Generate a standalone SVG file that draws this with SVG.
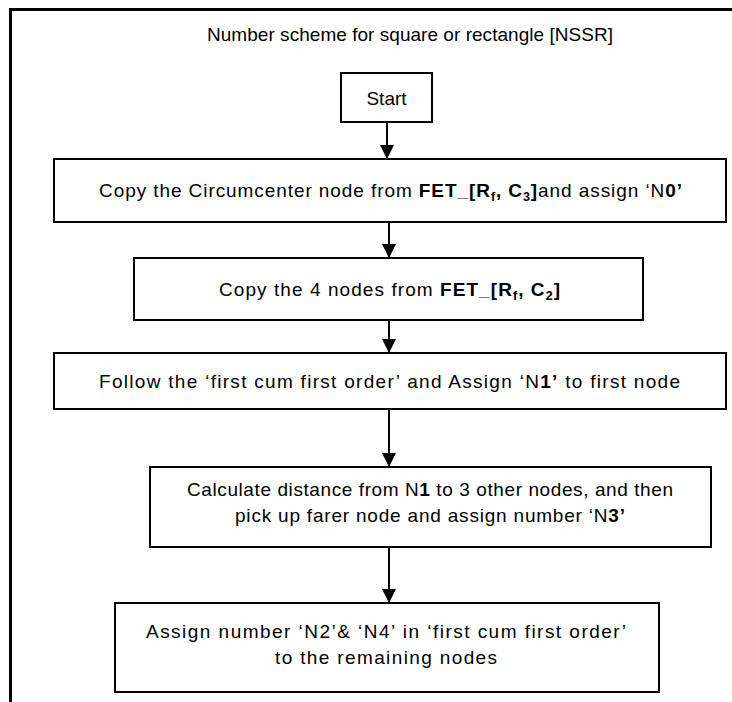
<svg xmlns="http://www.w3.org/2000/svg" width="732" height="702" viewBox="0 0 732 702">
  <style>
    .box { fill: #ffffff; stroke: #000000; stroke-width: 2; }
    .txt { font-family: "Liberation Sans", Arial, sans-serif; font-size: 19px; fill: #000000; text-anchor: middle; }
    .b { font-weight: bold; }
    .sub { font-size: 12.5px; }
    .conn { stroke: #000000; stroke-width: 2; fill: none; marker-end: url(#arrow); }
  </style>
  <defs>
    <marker id="arrow" viewBox="0 0 14 14" refX="14" refY="7" markerWidth="14" markerHeight="14" markerUnits="userSpaceOnUse" orient="auto">
      <path d="M0,0 L14,7 L0,14 Z" fill="#000000"/>
    </marker>
  </defs>

  <rect x="0" y="0" width="732" height="702" fill="#ffffff"/>

  <!-- outer frame: only the top and left edges fall inside the page -->
  <path d="M10.5,702 L10.5,9.5 L732,9.5" fill="none" stroke="#000000" stroke-width="3"/>

  <text class="txt" x="410" y="41" textLength="406">Number scheme for square or rectangle [NSSR]</text>

  <g id="connectors">
    <line class="conn" x1="387" y1="122" x2="387" y2="159"/>
    <line class="conn" x1="389" y1="222" x2="389" y2="258"/>
    <line class="conn" x1="389" y1="320" x2="389" y2="353"/>
    <line class="conn" x1="389" y1="409" x2="389" y2="467"/>
    <line class="conn" x1="389" y1="547" x2="389" y2="603"/>
  </g>

  <g id="start">
    <rect class="box" x="341" y="73" width="91" height="49"/>
    <text class="txt" x="386.5" y="104.5">Start</text>
  </g>

  <g id="copy-circumcenter">
    <rect class="box" x="54" y="159" width="672" height="63"/>
    <text class="txt" x="390.5" y="197" textLength="583">Copy the Circumcenter node from <tspan class="b">FET_[R<tspan class="sub" dy="4">f</tspan><tspan dy="-4">, C</tspan><tspan class="sub" dy="4">3</tspan><tspan dy="-4">]</tspan></tspan>and assign ‘N<tspan class="b">0’</tspan></text>
  </g>

  <g id="copy-four-nodes">
    <rect class="box" x="134" y="258" width="509" height="62"/>
    <text class="txt" x="389.5" y="296" textLength="341">Copy the 4 nodes from <tspan class="b">FET_[R<tspan class="sub" dy="4">f</tspan><tspan dy="-4">, C</tspan><tspan class="sub" dy="4">2</tspan><tspan dy="-4">]</tspan></tspan></text>
  </g>

  <g id="assign-n1">
    <rect class="box" x="54" y="353" width="672" height="56"/>
    <text class="txt" x="389.5" y="388" textLength="581">Follow the ‘first cum first order’ and Assign ‘N<tspan class="b">1’</tspan> to first node</text>
  </g>

  <g id="assign-n3">
    <rect class="box" x="150" y="467" width="561" height="80"/>
    <text class="txt" x="430" y="496" textLength="486">Calculate distance from N<tspan class="b">1</tspan> to 3 other nodes, and then</text>
    <text class="txt" x="430" y="522" textLength="390">pick up farer node and assign number ‘N<tspan class="b">3’</tspan></text>
  </g>

  <g id="assign-n2-n4">
    <rect class="box" x="115" y="603" width="544" height="89"/>
    <text class="txt" x="386" y="638" textLength="480">Assign number ‘N2’&amp; ‘N4’ in ‘first cum first order’</text>
    <text class="txt" x="386" y="664" textLength="222">to the remaining nodes</text>
  </g>
</svg>
